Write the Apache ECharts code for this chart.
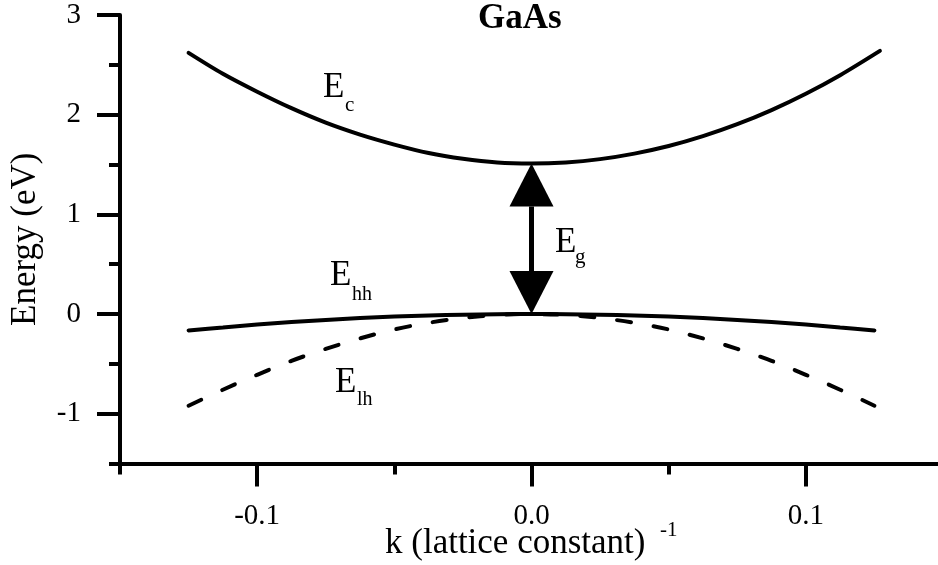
<!DOCTYPE html>
<html>
<head>
<meta charset="utf-8">
<title>GaAs band structure</title>
<script src="https://cdn.jsdelivr.net/npm/echarts@6/dist/echarts.min.js"></script>
<style>
  html, body { margin: 0; padding: 0; background: #fff; }
  #chart { width: 938px; height: 565px; }
</style>
</head>
<body>
<div id="chart"></div>
<script>
// Wave vector k, in units of (lattice constant)^-1
const kConduction = [-0.125, -0.1125, -0.1, -0.0875, -0.075, -0.0625, -0.05, -0.0375, -0.025, -0.0125, 0,
                     0.0125, 0.025, 0.0375, 0.05, 0.0625, 0.075, 0.0875, 0.1, 0.1125, 0.127];
// Conduction band E_c (eV)
const eConduction = [2.62, 2.41, 2.23, 2.065, 1.92, 1.80, 1.70, 1.615, 1.557, 1.52, 1.51,
                     1.521, 1.554, 1.609, 1.685, 1.784, 1.904, 2.046, 2.21, 2.396, 2.64];

const kValence = [-0.125, -0.1125, -0.1, -0.0875, -0.075, -0.0625, -0.05, -0.0375, -0.025, -0.0125, 0,
                  0.0125, 0.025, 0.0375, 0.05, 0.0625, 0.075, 0.0875, 0.1, 0.1125, 0.125];
// Heavy-hole band E_hh (eV)
const eHeavyHole = [-0.165, -0.135, -0.105, -0.081, -0.059, -0.041, -0.026, -0.015, -0.007, -0.002, 0,
                    -0.002, -0.007, -0.015, -0.026, -0.041, -0.059, -0.081, -0.105, -0.135, -0.165];
// Light-hole band E_lh (eV)
const eLightHole = [-0.92, -0.76, -0.61, -0.47, -0.35, -0.245, -0.155, -0.088, -0.04, -0.01, 0,
                    -0.01, -0.04, -0.088, -0.155, -0.245, -0.35, -0.47, -0.61, -0.76, -0.92];

// Band gap at k = 0: [k, valence top, conduction bottom]
const bandGap = [[0, 0, 1.51]];

// Axis ticks
const xMajorTicks = [-0.1, 0, 0.1];
const xMinorTicks = [-0.15, -0.05, 0.05, 0.15];
const yMajorTicks = [-1, 0, 1, 2, 3];
const yMinorTicks = [-1.5, -0.5, 0.5, 1.5, 2.5];

const SERIF = '"Liberation Serif", "Times New Roman", serif';

const zip = (xs, ys) => xs.map((x, i) => [x, ys[i]]);

const chart = echarts.init(document.getElementById('chart'), null, { renderer: 'canvas' });

const axisLineStyle = { color: '#000', width: 4 };

chart.setOption({
  animation: false,
  backgroundColor: '#fff',
  title: {
    text: 'GaAs',
    left: 478,
    top: 1,
    padding: 0,
    textStyle: { fontFamily: SERIF, fontWeight: 'bold', fontSize: 35, color: '#000' }
  },
  grid: { left: 120, top: 15, right: -5, bottom: 101.5, containLabel: false, outerBoundsMode: 'none' },
  xAxis: [
    {
      type: 'value', min: -0.15, max: 0.15, interval: 0.05, position: 'bottom',
      splitLine: { show: false },
      axisLine: { show: true, onZero: false, lineStyle: axisLineStyle },
      axisTick: { show: true, customValues: xMajorTicks, length: 23, lineStyle: axisLineStyle },
      axisLabel: {
        customValues: xMajorTicks, margin: 38,
        formatter: v => v.toFixed(1),
        fontFamily: SERIF, fontSize: 29, color: '#000'
      }
    },
    {
      type: 'value', min: -0.15, max: 0.15, interval: 0.05, position: 'bottom',
      splitLine: { show: false },
      axisLine: { show: false, onZero: false },
      axisTick: { show: true, customValues: xMinorTicks, length: 11, lineStyle: axisLineStyle },
      axisLabel: { show: false }
    }
  ],
  yAxis: [
    {
      type: 'value', min: -1.5, max: 3, interval: 0.5, position: 'left',
      name: 'Energy (eV)', nameLocation: 'middle', nameGap: 77, nameRotate: 90,
      nameMoveOverlap: false,
      nameTextStyle: { fontFamily: SERIF, fontSize: 35, color: '#000' },
      splitLine: { show: false },
      axisLine: { show: true, onZero: false, lineStyle: axisLineStyle },
      axisTick: { show: true, customValues: yMajorTicks, length: 23, lineStyle: axisLineStyle },
      axisLabel: {
        customValues: yMajorTicks, margin: 39,
        formatter: v => String(v),
        fontFamily: SERIF, fontSize: 29, color: '#000'
      }
    },
    {
      type: 'value', min: -1.5, max: 3, interval: 0.5, position: 'left',
      splitLine: { show: false },
      axisLine: { show: false, onZero: false },
      axisTick: { show: true, customValues: yMinorTicks, length: 11, lineStyle: axisLineStyle },
      axisLabel: { show: false }
    }
  ],
  series: [
    {
      name: 'Ec', type: 'line', data: zip(kConduction, eConduction),
      smooth: 0.3, symbol: 'none',
      lineStyle: { color: '#000', width: 4, cap: 'round' }
    },
    {
      name: 'Ehh', type: 'line', data: zip(kValence, eHeavyHole),
      smooth: 0.3, symbol: 'none',
      lineStyle: { color: '#000', width: 4, cap: 'round' }
    },
    {
      name: 'Elh', type: 'line', data: zip(kValence, eLightHole),
      smooth: 0.3, symbol: 'none',
      lineStyle: { color: '#000', width: 4, type: [14, 23], cap: 'round' }
    },
    {
      name: 'Eg', type: 'custom', data: bandGap, clip: false, z: 5,
      renderItem: (params, api) => {
        const low = api.coord([api.value(0), api.value(1)]);
        const high = api.coord([api.value(0), api.value(2)]);
        const x = low[0];
        const headW = 44, headH = 43;
        return {
          type: 'group',
          children: [
            {
              type: 'line',
              shape: { x1: x, y1: high[1] + headH, x2: x, y2: low[1] - headH },
              style: { stroke: '#000', lineWidth: 5 }
            },
            {
              type: 'polygon',
              shape: { points: [[x, high[1]], [x - headW / 2, high[1] + headH], [x + headW / 2, high[1] + headH]] },
              style: { fill: '#000' }
            },
            {
              type: 'polygon',
              shape: { points: [[x, low[1]], [x - headW / 2, low[1] - headH], [x + headW / 2, low[1] - headH]] },
              style: { fill: '#000' }
            }
          ]
        };
      }
    }
  ],
  graphic: [
    // band labels: capital E plus subscript
    { type: 'text', x: 323, y: 88, style: { text: 'E', font: '35px ' + SERIF, fill: '#000', verticalAlign: 'middle' } },
    { type: 'text', x: 345, y: 105, style: { text: 'c', font: '21px ' + SERIF, fill: '#000', verticalAlign: 'middle' } },
    { type: 'text', x: 330, y: 276, style: { text: 'E', font: '35px ' + SERIF, fill: '#000', verticalAlign: 'middle' } },
    { type: 'text', x: 352, y: 295, style: { text: 'hh', font: '20px ' + SERIF, fill: '#000', verticalAlign: 'middle' } },
    { type: 'text', x: 335, y: 383, style: { text: 'E', font: '35px ' + SERIF, fill: '#000', verticalAlign: 'middle' } },
    { type: 'text', x: 357, y: 400, style: { text: 'lh', font: '20px ' + SERIF, fill: '#000', verticalAlign: 'middle' } },
    { type: 'text', x: 555, y: 243, style: { text: 'E', font: '35px ' + SERIF, fill: '#000', verticalAlign: 'middle' } },
    { type: 'text', x: 575, y: 257, style: { text: 'g', font: '21px ' + SERIF, fill: '#000', verticalAlign: 'middle' } },
    // x axis title with superscript
    { type: 'text', x: 385, y: 544, style: { text: 'k (lattice constant)', font: '35px ' + SERIF, fill: '#000', verticalAlign: 'middle' } },
    { type: 'text', x: 660, y: 530, style: { text: '-1', font: '21px ' + SERIF, fill: '#000', verticalAlign: 'middle' } }
  ]
});
</script>
</body>
</html>
